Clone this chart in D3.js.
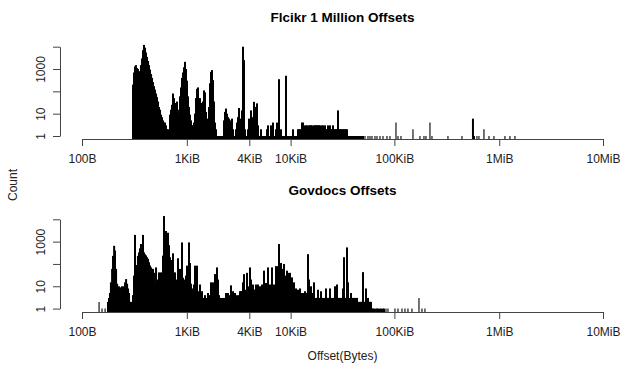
<!DOCTYPE html>
<html>
<head>
<meta charset="utf-8">
<script src="https://cdnjs.cloudflare.com/ajax/libs/d3/7.8.5/d3.min.js"></script>
<style>
  body { margin: 0; background: #fff; }
  svg { display: block; font-family: Arial, "Liberation Sans", sans-serif; }
</style>
</head>
<body>
<div id="chart"></div>
<script>
// axis ticks
const xTicks = [100, 1024, 4096, 10240, 102400, 1048576, 10485760];
const xTickLabels = ['100B', '1KiB', '4KiB', '10KiB', '100KiB', '1MiB', '10MiB'];
const yTicks = [1, 10, 100, 1000, 10000];
const yTickLabels = ['1', '10', '', '1000', ''];
const titles = ['Flcikr 1 Million Offsets', 'Govdocs Offsets'];

// Flickr: offset (bytes) -> count
const flickrOffsets = [
  310, 317, 324, 331, 339, 346, 354, 362, 370, 379, 387, 396, 405, 414, 423, 433, 442, 452, 463, 473,
  483, 494, 505, 517, 528, 540, 552, 565, 577, 590, 603, 617, 631, 645, 659, 674, 689, 705, 721, 737,
  753, 770, 788, 805, 823, 842, 861, 880, 900, 920, 941, 962, 983, 1005, 1028, 1051, 1074, 1098, 1123, 1148,
  1174, 1200, 1227, 1255, 1283, 1312, 1341, 1371, 1402, 1434, 1466, 1499, 1532, 1567, 1602, 1638, 1675, 1712, 1751, 1790,
  1830, 1871, 1913, 1956, 2000, 2045, 2091, 2138, 2186, 2235, 2285, 2336, 2389, 2442, 2497, 2553, 2610, 2669, 2729, 2790,
  2853, 2917, 2982, 3049, 3117, 3187, 3259, 3332, 3407, 3483, 3561, 3641, 3723, 3806, 3892, 3979, 4068, 4160, 4253, 4349,
  4446, 4546, 4648, 4752, 4859, 4968, 5079, 5193, 5310, 5429, 5551, 5675, 5803, 5933, 6066, 6202, 6341, 6483, 6629, 6778,
  6930, 7085, 7244, 7407, 7573, 7743, 7916, 8094, 8276, 8462, 8651, 8845, 9044, 9246, 9454, 9666, 9883, 10104, 10331, 10562,
  10800, 11042, 11289, 11543, 11802, 12066, 12337, 12614, 12897, 13186, 13482, 13784, 14093, 14409, 14732, 15063, 15401, 15746, 16099, 16460,
  16829, 17207, 17593, 17987, 18391, 18803, 19225, 19656, 20097, 20548, 21009, 21480, 21962, 22454, 22958, 23473, 23999, 24537, 25088, 25650,
  26226, 26814, 27415, 28030, 28659, 29302, 29959, 30631, 31318, 32020, 32738, 33472, 34223, 34991, 35776, 36578, 37397, 38236, 39094, 39971,
  40868, 41784, 42722, 43680, 44660, 45662, 46686, 47733,
  49898, 51017, 53331, 57002, 59592, 62290, 66577, 69598, 74387, 79504, 86880, 92860,
  106080, 110890, 118520, 154670, 180650, 197410, 206360, 225510, 235746,
  336190, 458622, 585360, 598500, 639680, 668690, 747130, 834970, 932690, 1190430, 1330140, 1486110
];
const flickrCounts = [
  200, 700, 1300, 1500, 1100, 1000, 800, 750, 1500, 3000, 7000, 12000, 9000, 5500, 3500, 2300, 1500, 950, 600, 400,
  260, 170, 120, 80, 55, 35, 20, 15, 9, 7, 5, 4, 4, 3, 2, 2, 1, 9, 15, 25,
  80, 50, 25, 30, 35, 8, 15, 60, 150, 400, 700, 1200, 2100, 1000, 300, 60, 20, 9, 5, 3,
  3, 4, 10, 50, 130, 150, 25, 50, 30, 18, 35, 110, 90, 12, 3, 6, 20, 230, 750, 900,
  320, 35, 4, 2, 1, 1, 1, 1, 1, 1, 1, 5, 12, 17, 10, 7, 6, 3, 5, 6,
  2, 1, 1, 2, 4, 7, 18, 3, 6, 14, 10000, 2500, 2, 1, 1, 2, 6, 3, 14, 7,
  5, 34, 20, 2, 29, 3, 1, 1, 2, 1, 1, 1, 1, 1, 2, 3, 1, 1, 3, 1,
  4, 1, 1, 2, 4, 1, 350, 1, 2, 1, 1, 1, 1, 500, 1, 1, 1, 1, 1, 1,
  2, 1, 1, 1, 1, 2, 2, 2, 2, 4, 4, 3, 2, 3, 3, 2, 3, 3, 3, 3,
  2, 3, 3, 3, 3, 3, 3, 3, 2, 3, 3, 2, 3, 2, 2, 3, 2, 3, 2, 2,
  3, 2, 2, 2, 2, 14, 2, 2, 2, 2, 2, 2, 2, 2, 2, 1, 1, 1, 1, 1,
  1, 1, 1, 1, 1, 1, 1, 1,
  1, 1, 1, 1, 1, 1, 1, 1, 1, 1, 1, 1,
  4, 1, 1, 2, 1, 1, 1, 4, 1,
  1, 1, 6, 1, 1, 1, 2, 1, 1, 1, 1, 1
];

// Govdocs: offset (bytes) -> count
const govdocsOffsets = [
  146, 156, 167, 178, 182, 186, 190, 195, 199, 204, 208, 213, 218, 222, 227, 232, 238, 243, 248, 254,
  260, 266, 272, 278, 284, 290, 297, 303,
  310, 317, 324, 331, 339, 346, 354, 362, 370, 379, 387, 396, 405, 414, 423, 433, 442, 452, 463, 473,
  483, 494, 505, 517, 528, 540, 552, 565, 577, 590, 603, 617, 631, 645, 659, 674, 689, 705, 721, 737,
  753, 770, 788, 805, 823, 842, 861, 880, 900, 920, 941, 962, 983, 1005, 1028, 1051, 1074, 1098, 1123, 1148,
  1174, 1200, 1227, 1255, 1283, 1312, 1341, 1371, 1402, 1434, 1466, 1499, 1532, 1567, 1602, 1638, 1675, 1712, 1751, 1790,
  1830, 1871, 1913, 1956, 2000, 2045, 2091, 2138, 2186, 2235, 2285, 2336, 2389, 2442, 2497, 2553, 2610, 2669, 2729, 2790,
  2853, 2917, 2982, 3049, 3117, 3187, 3259, 3332, 3407, 3483, 3561, 3641, 3723, 3806, 3892, 3979, 4068, 4160, 4253, 4349,
  4446, 4546, 4648, 4752, 4859, 4968, 5079, 5193, 5310, 5429, 5551, 5675, 5803, 5933, 6066, 6202, 6341, 6483, 6629, 6778,
  6930, 7085, 7244, 7407, 7573, 7743, 7916, 8094, 8276, 8462, 8651, 8845, 9044, 9246, 9454, 9666, 9883, 10104, 10331, 10562,
  10800, 11042, 11289, 11543, 11802, 12066, 12337, 12614, 12897, 13186, 13482, 13784, 14093, 14409, 14732, 15063, 15401, 15746, 16099, 16460,
  16829, 17207, 17593, 17987, 18391, 18803, 19225, 19656, 20097, 20548, 21009, 21480, 21962, 22454, 22958, 23473, 23999, 24537, 25088, 25650,
  26226, 26814, 27415, 28030, 28659, 29302, 29959, 30631, 31318, 32020, 32738, 33472, 34223, 34991, 35776, 36578, 37397, 38236, 39094, 39971,
  40868, 41784, 42722, 43680, 44660, 45662, 46686, 47733, 48804, 49898, 51017, 52161, 53331, 54527, 55750, 57002, 58280, 59592, 60927, 62290,
  63687, 65115, 68070, 69598, 71157, 74387, 76055, 79504, 81286, 84978, 88831,
  103751, 110890, 121180, 129520, 138390, 151276, 176710, 188846, 201840
];
const govdocsCounts = [
  2, 1, 1, 2, 3, 5, 15, 60, 230, 650, 400, 60, 13, 8, 10, 8, 9, 10, 5, 10,
  15, 21, 13, 8, 5, 2, 2, 1,
  4, 30, 2000, 25, 90, 230, 330, 500, 780, 400, 2000, 330, 270, 240, 200, 170, 120, 85, 70, 30,
  60, 40, 13, 70, 20, 6, 42, 10, 42, 12, 235, 14000, 1000, 3000, 800, 2500, 700, 200, 150, 100,
  300, 40, 42, 20, 12, 180, 17, 60, 30, 920, 24, 20, 8, 30, 84, 30, 920, 110, 13, 6,
  8, 12, 84, 10, 84, 6, 5, 12, 4, 6, 3, 3, 4, 2, 3, 5, 4, 2, 15, 3,
  15, 4, 35, 3, 70, 20, 4, 3, 2, 3, 2, 3, 2, 5, 4, 5, 3, 4, 11, 3,
  6, 3, 5, 3, 4, 3, 4, 6, 6, 6, 15, 35, 6, 7, 40, 10, 6, 70, 20, 7,
  12, 7, 7, 12, 7, 12, 7, 10, 8, 12, 8, 50, 8, 14, 8, 70, 8, 12, 8, 70,
  8, 12, 8, 80, 8, 80, 780, 8, 110, 8, 60, 100, 7, 30, 50, 40, 7, 40, 5, 25,
  4, 15, 5, 8, 4, 7, 4, 8, 4, 5, 5, 5, 6, 5, 5, 275, 20, 5, 10, 5,
  5, 15, 3, 3, 3, 7, 3, 3, 6, 3, 3, 3, 3, 8, 3, 3, 3, 8, 3, 3,
  3, 3, 10, 3, 12, 3, 3, 3, 3, 3, 8, 200, 3, 3, 550, 15, 3, 3, 5, 3,
  3, 3, 3, 3, 3, 2, 2, 2, 2, 2, 43, 2, 2, 8, 2, 3, 2, 2, 2, 1,
  1, 1, 1, 1, 1, 1, 1, 1, 1, 1, 1,
  1, 1, 1, 1, 1, 1, 3, 1, 1
];

const width = 621;
const height = 369;

const svg = d3.select('#chart')
  .append('svg')
  .attr('width', width)
  .attr('height', height);

const x = d3.scaleLog()
  .domain([100, 10485760])
  .range([82, 603]);

const panels = [
  { title: titles[0], offsets: flickrOffsets, counts: flickrCounts, top: 46.7, axisY: 139, titleY: 22 },
  { title: titles[1], offsets: govdocsOffsets, counts: govdocsCounts, top: 219.3, axisY: 312, titleY: 195 }
];

panels.forEach(p => {
  const g = svg.append('g');
  const y = d3.scaleLog()
    .domain([1, 10000])
    .range([p.top + 89.3, p.top]);

  const pts = d3.zip(p.offsets, p.counts);
  const px = pts.map(d => x(d[0]));
  // lines packed side by side need a wider stroke so the block reads solid
  const packed = px.map((v, i) =>
    (i > 0 && v - px[i - 1] < 1.4) || (i < px.length - 1 && px[i + 1] - v < 1.4));

  // spikes (type = "h")
  g.append('g')
    .selectAll('line')
    .data(pts)
    .join('line')
    .attr('x1', d => x(d[0]))
    .attr('x2', d => x(d[0]))
    .attr('y1', p.axisY + 0.5)
    .attr('y2', d => y(d[1]))
    .attr('stroke', '#000')
    .attr('stroke-width', (d, i) => packed[i] ? 2 : 1.1);

  // x axis
  const xAxis = g.append('g')
    .attr('transform', `translate(0,${p.axisY})`)
    .call(d3.axisBottom(x)
      .tickValues(xTicks)
      .tickFormat((d, i) => xTickLabels[i])
      .tickSizeInner(7)
      .tickSizeOuter(0)
      .tickPadding(8.5));

  // y axis
  const yAxis = g.append('g')
    .attr('transform', 'translate(60,0)')
    .call(d3.axisLeft(y)
      .tickValues(yTicks)
      .tickFormat((d, i) => yTickLabels[i])
      .tickSizeInner(7)
      .tickSizeOuter(0));

  yAxis.selectAll('text')
    .attr('x', 0)
    .attr('dy', 0)
    .attr('text-anchor', 'middle')
    .attr('transform', 'translate(-14.7,0) rotate(-90)');

  [xAxis, yAxis].forEach(a => {
    a.attr('font-family', null).attr('font-size', null);
    a.selectAll('path, line').attr('stroke', '#444');
    a.selectAll('text').attr('fill', '#222').style('font-size', '12px');
  });

  g.append('text')
    .attr('x', 342.5)
    .attr('y', p.titleY)
    .attr('text-anchor', 'middle')
    .style('font-size', '13.5px')
    .style('font-weight', 'bold')
    .attr('fill', '#000')
    .text(p.title);
});

// outer axis titles
svg.append('text')
  .attr('x', 342.5)
  .attr('y', 359.5)
  .attr('text-anchor', 'middle')
  .style('font-size', '12px')
  .attr('fill', '#222')
  .text('Offset(Bytes)');

svg.append('text')
  .attr('transform', 'translate(17.3,185) rotate(-90)')
  .attr('text-anchor', 'middle')
  .style('font-size', '12px')
  .attr('fill', '#222')
  .text('Count');
</script>
</body>
</html>
